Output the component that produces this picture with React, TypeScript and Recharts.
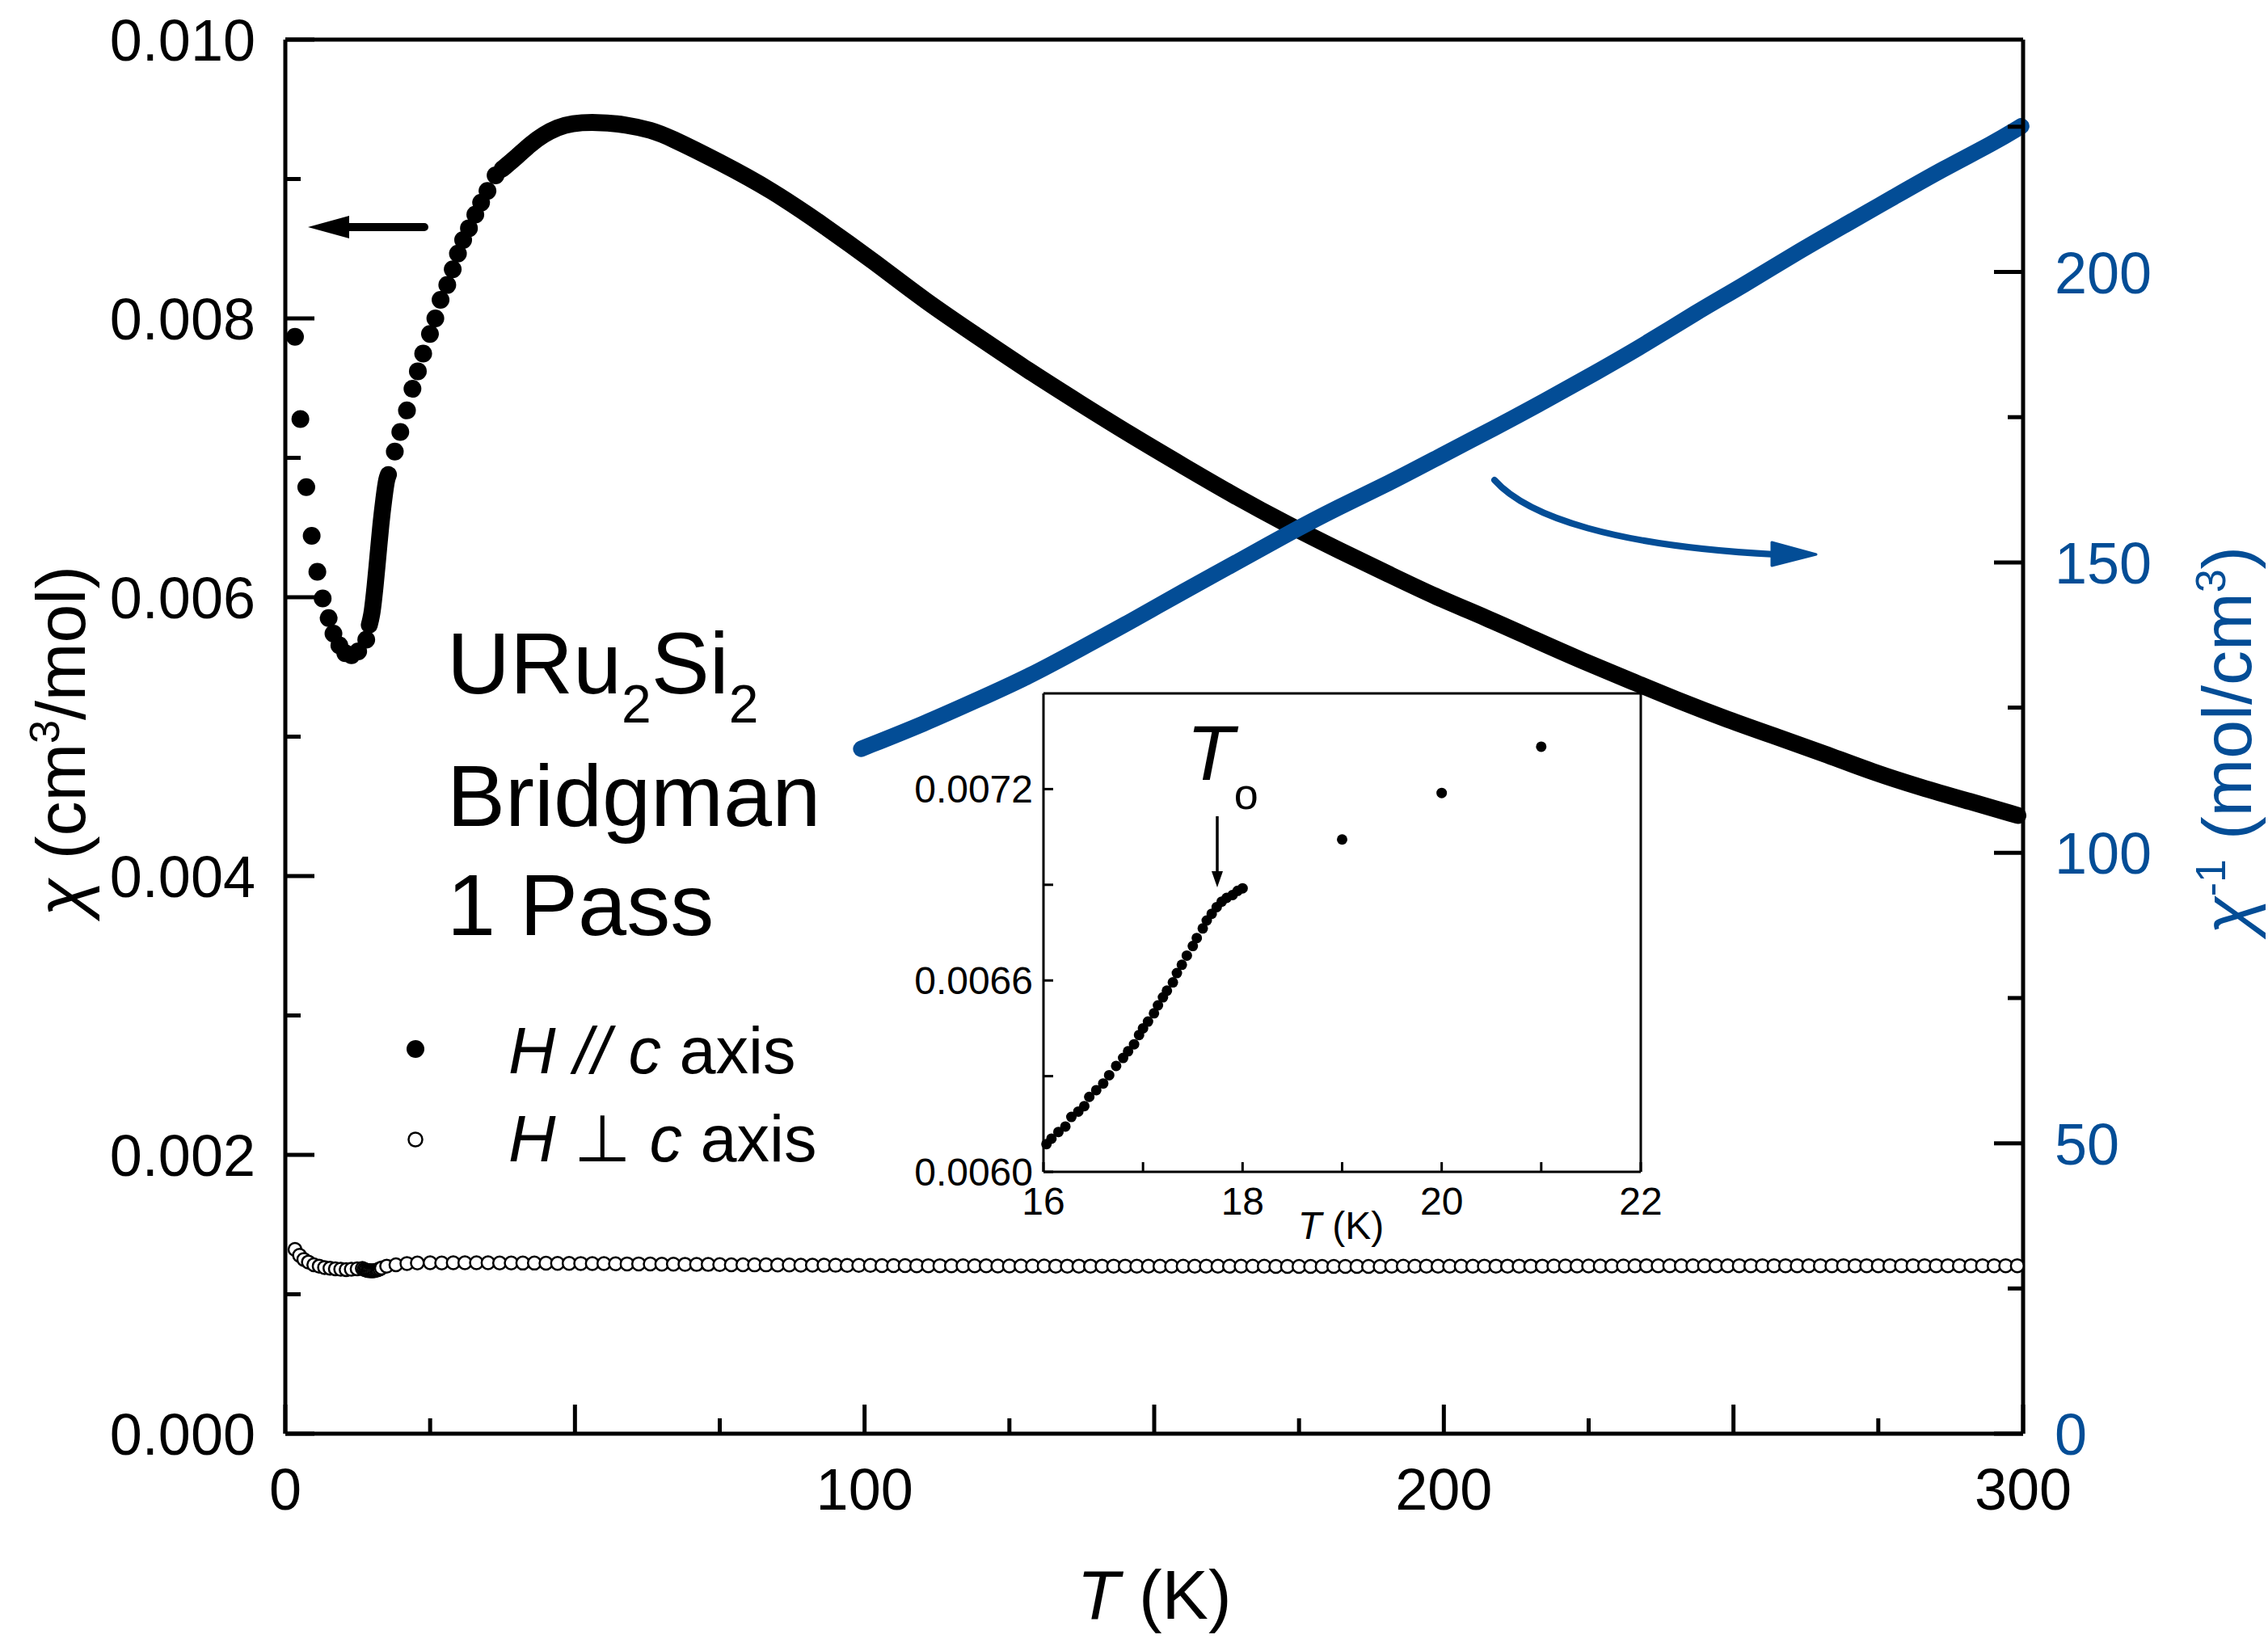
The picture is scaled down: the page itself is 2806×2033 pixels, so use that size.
import { ComposedChart, XAxis, YAxis, Line, Scatter, ReferenceLine } from "recharts";

const FONT = '"Liberation Sans", Arial, Helvetica, sans-serif';
const BLUE = "#034d96";

type Pt = [number, number];

// chi (cm3/mol), H // c: separate dots
const parDots: Pt[] = [
  [1.67, 7.868e-3], [2.6, 7.278e-3], [3.62, 6.79e-3], [4.55, 6.441e-3], [5.53, 6.183e-3],
  [6.45, 5.991e-3], [7.48, 5.851e-3], [8.31, 5.739e-3], [9.33, 5.655e-3], [10.35, 5.598e-3],
  [11.42, 5.584e-3], [12.58, 5.612e-3], [13.97, 5.696e-3],
  [18.9, 7.045e-3], [19.85, 7.186e-3], [21.0, 7.34e-3], [21.95, 7.495e-3], [22.88, 7.621e-3],
  [23.8, 7.748e-3], [24.97, 7.888e-3], [25.9, 8.0e-3], [26.8, 8.133e-3], [27.96, 8.24e-3],
  [28.9, 8.352e-3], [29.8, 8.465e-3], [30.7, 8.563e-3], [31.7, 8.647e-3], [32.8, 8.745e-3],
  [33.8, 8.83e-3], [34.9, 8.914e-3], [36.3, 9.026e-3],
];

// H // c: dense run through the transition
const parStep: Pt[] = [
  [14.5, 5.8e-3], [15.0, 5.9e-3], [15.5, 6.08e-3], [16.0, 6.3e-3], [16.5, 6.52e-3],
  [17.0, 6.7e-3], [17.5, 6.84e-3], [17.8, 6.88e-3],
];

// H // c: dense run above 38 K
const parHigh: Pt[] = [
  [37.4, 9.07e-3], [40, 9.16e-3], [42.3, 9.25e-3], [44.6, 9.32e-3], [47, 9.37e-3],
  [49.3, 9.4e-3], [53.7, 9.41e-3], [59, 9.39e-3], [63.2, 9.35e-3], [66.1, 9.305e-3],
  [75, 9.122e-3], [83.9, 8.922e-3], [92.8, 8.672e-3], [101.7, 8.406e-3], [110.5, 8.123e-3],
  [119.4, 7.874e-3], [128.3, 7.624e-3], [137.2, 7.39e-3], [146.1, 7.16e-3], [155, 6.942e-3],
  [163.9, 6.726e-3], [172.8, 6.526e-3], [182.1, 6.332e-3], [190.5, 6.165e-3], [198.8, 5.999e-3],
  [207.2, 5.855e-3], [215.5, 5.699e-3], [223.9, 5.544e-3], [232.3, 5.4e-3], [240.6, 5.256e-3],
  [249, 5.122e-3], [257.3, 5.001e-3], [265.7, 4.878e-3], [274.1, 4.745e-3], [282.4, 4.635e-3],
  [290.8, 4.535e-3], [299.1, 4.435e-3],
];

// H perp c (open circles)
const perp: Pt[] = [
  [1.67, 1.322e-3], [2.46, 1.279e-3], [3.2, 1.25e-3], [3.99, 1.231e-3], [4.92, 1.212e-3],
  [5.85, 1.202e-3], [6.78, 1.192e-3], [7.71, 1.187e-3], [8.64, 1.183e-3], [9.57, 1.179e-3],
  [10.5, 1.177e-3], [11.4, 1.179e-3], [12.4, 1.183e-3], [13.3, 1.185e-3],
  [13.6, 1.178e-3], [13.9, 1.174e-3], [14.2, 1.171e-3], [14.5, 1.169e-3], [14.8, 1.168e-3],
  [15.1, 1.168e-3], [15.4, 1.17e-3], [15.7, 1.173e-3], [16.0, 1.177e-3], [16.3, 1.182e-3],
  [16.6, 1.188e-3], [17.5, 1.202e-3], [19.1, 1.212e-3], [21.0, 1.221e-3], [22.8, 1.225e-3],
  [25.0, 1.226e-3],
  [27, 1.225e-3], [29, 1.226e-3], [31, 1.226e-3], [33, 1.226e-3], [35, 1.226e-3],
  [37, 1.225e-3], [39, 1.225e-3], [41, 1.224e-3], [43, 1.224e-3], [45, 1.223e-3],
  [47, 1.222e-3], [49, 1.222e-3], [51, 1.221e-3], [53, 1.22e-3], [55, 1.22e-3],
  [57, 1.219e-3], [59, 1.218e-3], [61, 1.218e-3], [63, 1.217e-3], [65, 1.216e-3],
  [67, 1.216e-3], [69, 1.215e-3], [71, 1.214e-3], [73, 1.214e-3], [75, 1.213e-3],
  [77, 1.212e-3], [79, 1.212e-3], [81, 1.211e-3], [83, 1.211e-3], [85, 1.21e-3],
  [87, 1.21e-3], [89, 1.209e-3], [91, 1.209e-3], [93, 1.208e-3], [95, 1.208e-3],
  [97, 1.207e-3], [99, 1.207e-3], [101, 1.207e-3], [103, 1.206e-3], [105, 1.206e-3],
  [107, 1.206e-3], [109, 1.205e-3], [111, 1.205e-3], [113, 1.205e-3], [115, 1.204e-3],
  [117, 1.204e-3], [119, 1.204e-3], [121, 1.204e-3], [123, 1.203e-3], [125, 1.203e-3],
  [127, 1.203e-3], [129, 1.203e-3], [131, 1.203e-3], [133, 1.202e-3], [135, 1.202e-3],
  [137, 1.202e-3], [139, 1.202e-3], [141, 1.202e-3], [143, 1.202e-3], [145, 1.202e-3],
  [147, 1.201e-3], [149, 1.201e-3], [151, 1.201e-3], [153, 1.201e-3], [155, 1.201e-3],
  [157, 1.201e-3], [159, 1.201e-3], [161, 1.201e-3], [163, 1.201e-3], [165, 1.201e-3],
  [167, 1.201e-3], [169, 1.201e-3], [171, 1.2e-3], [173, 1.2e-3], [175, 1.2e-3],
  [177, 1.2e-3], [179, 1.2e-3], [181, 1.2e-3], [183, 1.2e-3], [185, 1.2e-3],
  [187, 1.2e-3], [189, 1.2e-3], [191, 1.201e-3], [193, 1.201e-3], [195, 1.201e-3],
  [197, 1.201e-3], [199, 1.201e-3], [201, 1.201e-3], [203, 1.201e-3], [205, 1.201e-3],
  [207, 1.202e-3], [209, 1.202e-3], [211, 1.202e-3], [213, 1.202e-3], [215, 1.202e-3],
  [217, 1.202e-3], [219, 1.203e-3], [221, 1.203e-3], [223, 1.203e-3], [225, 1.203e-3],
  [227, 1.203e-3], [229, 1.203e-3], [231, 1.203e-3], [233, 1.204e-3], [235, 1.204e-3],
  [237, 1.204e-3], [239, 1.204e-3], [241, 1.204e-3], [243, 1.204e-3], [245, 1.204e-3],
  [247, 1.204e-3], [249, 1.204e-3], [251, 1.205e-3], [253, 1.205e-3], [255, 1.205e-3],
  [257, 1.205e-3], [259, 1.205e-3], [261, 1.205e-3], [263, 1.205e-3], [265, 1.205e-3],
  [267, 1.205e-3], [269, 1.205e-3], [271, 1.205e-3], [273, 1.205e-3], [275, 1.205e-3],
  [277, 1.205e-3], [279, 1.205e-3], [281, 1.205e-3], [283, 1.205e-3], [285, 1.205e-3],
  [287, 1.205e-3], [289, 1.205e-3], [291, 1.205e-3], [293, 1.205e-3], [295, 1.205e-3],
  [297, 1.205e-3], [299, 1.205e-3],
];

// 1/chi (mol/cm3), right axis
const invChi: Pt[] = [
  [99.4, 117.9], [110.5, 122.3], [119.4, 126.3], [128.3, 130.3], [137.2, 135.1],
  [146.1, 139.9], [155, 145.0], [163.9, 149.8], [172.8, 154.8], [181.8, 159.5],
  [190.5, 163.6], [198.8, 168.0], [208.9, 173.2], [217.5, 177.8], [226.1, 182.6],
  [234.7, 187.5], [243.3, 192.9], [251.9, 197.8], [260.5, 203.1], [269.1, 208.0],
  [277.7, 212.9], [286.3, 217.8], [294.9, 222.2], [299.7, 225.1],
];

// inset, 16-22 K
const insetPts: Pt[] = [
  [16.03, 6.087e-3], [16.08, 6.104e-3], [16.15, 6.125e-3], [16.22, 6.142e-3], [16.28, 6.172e-3],
  [16.35, 6.189e-3], [16.41, 6.206e-3], [16.46, 6.235e-3], [16.53, 6.256e-3], [16.6, 6.277e-3],
  [16.66, 6.303e-3], [16.73, 6.332e-3], [16.8, 6.357e-3], [16.85, 6.378e-3], [16.91, 6.4e-3],
  [16.96, 6.429e-3], [17.0, 6.45e-3], [17.05, 6.471e-3], [17.11, 6.497e-3], [17.15, 6.522e-3],
  [17.2, 6.547e-3], [17.24, 6.568e-3], [17.3, 6.594e-3], [17.34, 6.623e-3], [17.39, 6.649e-3],
  [17.44, 6.678e-3], [17.5, 6.708e-3], [17.54, 6.733e-3], [17.6, 6.763e-3], [17.64, 6.788e-3],
  [17.69, 6.809e-3], [17.74, 6.83e-3], [17.79, 6.847e-3], [17.84, 6.859e-3], [17.9, 6.868e-3],
  [17.95, 6.881e-3], [18.0, 6.889e-3],
  [19.0, 7.042e-3], [20.0, 7.188e-3], [21.0, 7.333e-3],
];

const xTicks = [0, 25, 50, 75, 100, 125, 150, 175, 200, 225, 250, 275, 300];
const leftTicks = [0, 0.001, 0.002, 0.003, 0.004, 0.005, 0.006, 0.007, 0.008, 0.009, 0.01];
const rightTicks = [0, 25, 50, 75, 100, 125, 150, 175, 200, 225];
const insetXTicks = [16, 17, 18, 19, 20, 21, 22];
const insetYTicks = [0.006, 0.0063, 0.0066, 0.0069, 0.0072];

const rows = (pts: Pt[]) => pts.map(([t, v]) => ({ t, v }));

const txt = { fontFamily: FONT, fill: "#000" };

// main plot ticks point inward
const bottomTick = (p: any) => {
  const v = p.payload.value;
  const len = v % 50 === 0 ? 36 : 19;
  return (
    <g>
      <line x1={p.x} x2={p.x} y1={p.y} y2={p.y - len} stroke="#000" strokeWidth={5} />
      {v % 100 === 0 && (
        <text {...txt} x={p.x} y={p.y + 94} textAnchor="middle" fontSize={72}>
          {v}
        </text>
      )}
    </g>
  );
};

const leftTick = (p: any) => {
  const v = p.payload.value;
  const major = Math.round(v * 1000) % 2 === 0;
  return (
    <g>
      <line x1={p.x} x2={p.x + (major ? 36 : 19)} y1={p.y} y2={p.y} stroke="#000" strokeWidth={5} />
      {major && (
        <text {...txt} x={p.x - 37} y={p.y + 26} textAnchor="end" fontSize={72}>
          {v.toFixed(3)}
        </text>
      )}
    </g>
  );
};

const rightTick = (p: any) => {
  const v = p.payload.value;
  const major = v % 50 === 0;
  return (
    <g>
      <line x1={p.x} x2={p.x - (major ? 36 : 19)} y1={p.y} y2={p.y} stroke="#000" strokeWidth={5} />
      {major && (
        <text x={p.x + 39} y={p.y + 26} fontFamily={FONT} fill={BLUE} fontSize={72}>
          {v}
        </text>
      )}
    </g>
  );
};

const insetBottomTick = (p: any) => {
  const v = p.payload.value;
  return (
    <g>
      <line x1={p.x} x2={p.x} y1={p.y} y2={p.y - 12} stroke="#000" strokeWidth={3} />
      {v % 2 === 0 && (
        <text {...txt} x={p.x} y={p.y + 53} textAnchor="middle" fontSize={48}>
          {v}
        </text>
      )}
    </g>
  );
};

const insetTopTick = (p: any) => (
  <line x1={p.x} x2={p.x} y1={p.y} y2={p.y + 12} stroke="#000" strokeWidth={3} />
);

const insetLeftTick = (p: any) => {
  const v = p.payload.value;
  const k = Math.round(v * 1e4);
  return (
    <g>
      <line x1={p.x} x2={p.x + 12} y1={p.y} y2={p.y} stroke="#000" strokeWidth={3} />
      {k % 6 === 0 && (
        <text {...txt} x={p.x - 13} y={p.y + 17} textAnchor="end" fontSize={48}>
          {v.toFixed(4)}
        </text>
      )}
    </g>
  );
};

const insetRightTick = (p: any) => (
  <line x1={p.x} x2={p.x - 12} y1={p.y} y2={p.y} stroke="#000" strokeWidth={3} />
);

const filledDot = (r: number) => (p: any) => <circle cx={p.cx} cy={p.cy} r={r} fill="#000" />;
const openDot = (p: any) => (
  <circle cx={p.cx} cy={p.cy} r={8} fill="#fff" stroke="#000" strokeWidth={2.5} />
);

const Overlay = () => (
  <svg
    width={2806}
    height={2033}
    style={{ position: "absolute", left: 0, top: 0, pointerEvents: "none" }}
    fontFamily={FONT}
  >
    {/* axis titles */}
    <text x={1428} y={2003} fontSize={86} textAnchor="middle">
      <tspan fontStyle="italic">T</tspan> (K)
    </text>
    <text x={105} y={917} fontSize={86} textAnchor="middle" transform="rotate(-90 105 917)">
      <tspan fontStyle="italic">χ</tspan> (cm
      <tspan dy={-32} fontSize={52}>3</tspan>
      <tspan dy={32}>/mol)</tspan>
    </text>
    <text x={2785} y={916} fontSize={86} fill={BLUE} textAnchor="middle" transform="rotate(-90 2785 916)">
      <tspan fontStyle="italic">χ</tspan>
      <tspan dy={-32} fontSize={52}>-1</tspan>
      <tspan dy={32}> (mol/cm</tspan>
      <tspan dy={-32} fontSize={52}>3</tspan>
      <tspan dy={32}>)</tspan>
    </text>

    {/* sample */}
    <text x={553} y={858} fontSize={108}>
      URu<tspan dy={36} fontSize={66}>2</tspan>
      <tspan dy={-36}>Si</tspan>
      <tspan dy={36} fontSize={66}>2</tspan>
    </text>
    <text x={553} y={1022} fontSize={108}>Bridgman</text>
    <text x={553} y={1157} fontSize={108}>1 Pass</text>

    {/* legend */}
    <circle cx={514} cy={1298} r={11} fill="#000" />
    <text x={629} y={1328} fontSize={81}>
      <tspan fontStyle="italic">H</tspan> <tspan fontStyle="italic">//</tspan>{" "}
      <tspan fontStyle="italic">c</tspan> axis
    </text>
    <circle cx={514} cy={1410} r={8.5} fill="#fff" stroke="#000" strokeWidth={2.5} />
    <text x={629} y={1437} fontSize={81}>
      <tspan fontStyle="italic">H</tspan> ⊥ <tspan fontStyle="italic">c</tspan> axis
    </text>

    {/* arrows */}
    <line x1={525} y1={281} x2={428} y2={281} stroke="#000" strokeWidth={10} strokeLinecap="round" />
    <polygon points="381,281 432,267 432,295" fill="#000" />
    <path d="M1849 594 C1890 640 2000 676 2196 686" fill="none" stroke={BLUE} strokeWidth={8} strokeLinecap="round" />
    <polygon points="2192,671 2247,686 2192,700" fill={BLUE} stroke={BLUE} strokeWidth={3} strokeLinejoin="round" />

    {/* inset text */}
    <text x={1468} y={965} fontSize={96}>
      <tspan fontStyle="italic">T</tspan>
      <tspan dy={36} fontSize={54}>o</tspan>
    </text>
    <line x1={1506} y1={1010} x2={1506} y2={1082} stroke="#000" strokeWidth={3.5} />
    <polygon points="1499,1078 1513,1078 1506,1098" fill="#000" />
    <text x={1659} y={1533} fontSize={48} textAnchor="middle">
      <tspan fontStyle="italic">T</tspan> (K)
    </text>
  </svg>
);

const Inset = () => (
  <>
    <div
      style={{ position: "absolute", left: 1291, top: 858, width: 739, height: 592, background: "#fff" }}
    />
    <div style={{ position: "absolute", left: 1100, top: 840 }}>
      <ComposedChart width={1000} height={720} margin={{ top: 0, right: 0, bottom: 0, left: 0 }}>
        <XAxis
          xAxisId="b"
          type="number"
          dataKey="t"
          domain={[16, 22]}
          ticks={insetXTicks}
          interval={0}
          height={110}
          tickSize={0}
          tickMargin={0}
          tickLine={false}
          axisLine={{ stroke: "#000", strokeWidth: 3 }}
          tick={insetBottomTick}
        />
        <XAxis
          xAxisId="top"
          orientation="top"
          type="number"
          dataKey="t"
          domain={[16, 22]}
          ticks={insetXTicks}
          interval={0}
          height={18}
          tickSize={0}
          tickMargin={0}
          tickLine={false}
          axisLine={{ stroke: "#000", strokeWidth: 3 }}
          tick={insetTopTick}
        />
        <YAxis
          yAxisId="l"
          type="number"
          domain={[0.006, 0.0075]}
          ticks={insetYTicks}
          interval={0}
          width={191}
          tickSize={0}
          tickMargin={0}
          tickLine={false}
          axisLine={{ stroke: "#000", strokeWidth: 3 }}
          tick={insetLeftTick}
        />
        <YAxis
          yAxisId="r"
          orientation="right"
          type="number"
          domain={[0.006, 0.0075]}
          ticks={insetYTicks}
          interval={0}
          width={70}
          tickSize={0}
          tickMargin={0}
          tickLine={false}
          axisLine={{ stroke: "#000", strokeWidth: 3 }}
          tick={insetRightTick}
        />
        <Scatter
          xAxisId="b"
          yAxisId="l"
          data={rows(insetPts)}
          dataKey="v"
          shape={filledDot(6.5)}
          isAnimationActive={false}
        />
      </ComposedChart>
    </div>
  </>
);

export default function App() {
  return (
    <div style={{ position: "relative", width: 2806, height: 2033, background: "#fff" }}>
      <style>{"body{margin:0;background:#fff}"}</style>
      <ComposedChart width={2806} height={2033} margin={{ top: 49, right: 0, bottom: 0, left: 0 }}>
        <XAxis
          type="number"
          dataKey="t"
          domain={[0, 300]}
          ticks={xTicks}
          interval={0}
          height={259}
          tickSize={0}
          tickMargin={0}
          tickLine={false}
          axisLine={{ stroke: "#000", strokeWidth: 5 }}
          tick={bottomTick}
        />
        <YAxis
          yAxisId="left"
          type="number"
          domain={[0, 0.01]}
          ticks={leftTicks}
          interval={0}
          width={353}
          tickSize={0}
          tickMargin={0}
          tickLine={false}
          axisLine={{ stroke: "#000", strokeWidth: 5 }}
          tick={leftTick}
        />
        <YAxis
          yAxisId="right"
          orientation="right"
          type="number"
          domain={[0, 240]}
          ticks={rightTicks}
          interval={0}
          width={303}
          tickSize={0}
          tickMargin={0}
          tickLine={false}
          axisLine={{ stroke: "#000", strokeWidth: 5 }}
          tick={rightTick}
        />
        <ReferenceLine yAxisId="left" y={0.01} stroke="#000" strokeWidth={5} />
        <Scatter yAxisId="left" data={rows(perp)} dataKey="v" shape={openDot} isAnimationActive={false} />
        <Line
          yAxisId="left"
          data={rows(parStep)}
          dataKey="v"
          type="monotone"
          stroke="#000"
          strokeWidth={21}
          strokeLinecap="round"
          dot={false}
          activeDot={false}
          isAnimationActive={false}
        />
        <Line
          yAxisId="left"
          data={rows(parHigh)}
          dataKey="v"
          type="basis"
          stroke="#000"
          strokeWidth={21}
          strokeLinecap="round"
          dot={false}
          activeDot={false}
          isAnimationActive={false}
        />
        <Scatter yAxisId="left" data={rows(parDots)} dataKey="v" shape={filledDot(11)} isAnimationActive={false} />
        <Line
          yAxisId="right"
          data={rows(invChi)}
          dataKey="v"
          type="basis"
          stroke={BLUE}
          strokeWidth={20}
          strokeLinecap="round"
          dot={false}
          activeDot={false}
          isAnimationActive={false}
        />
      </ComposedChart>
      <Inset />
      <Overlay />
    </div>
  );
}
